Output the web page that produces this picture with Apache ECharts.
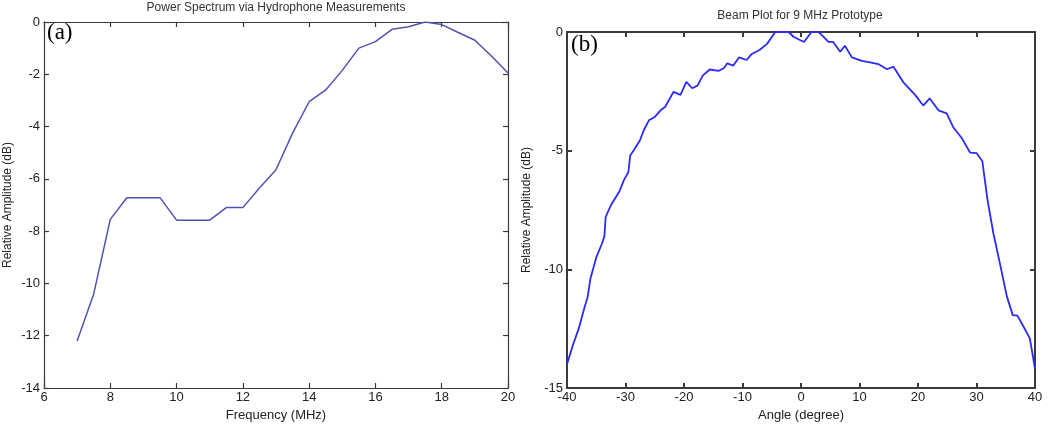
<!DOCTYPE html>
<html>
<head>
<meta charset="utf-8">
<script src="https://cdn.jsdelivr.net/npm/echarts@6/dist/echarts.min.js"></script>
<style>
html,body{margin:0;padding:0;background:#fff;}
#chart{width:1050px;height:427px;}
</style>
</head>
<body>
<div id="chart"></div>
<script>
// ---- Data (a): Power spectrum via hydrophone measurements ----
const freqMHz = [7, 7.5, 8, 8.5, 9, 9.5, 10, 10.5, 11, 11.5, 12, 12.5, 13, 13.5, 14, 14.5, 15, 15.5, 16, 16.5, 17, 17.5, 18, 18.5, 19, 19.5, 20];
const spectrumDb = [-12.2, -10.4, -7.55, -6.72, -6.72, -6.72, -7.58, -7.58, -7.58, -7.1, -7.1, -6.35, -5.65, -4.25, -3.05, -2.6, -1.85, -1.0, -0.75, -0.28, -0.18, 0, -0.1, -0.4, -0.7, -1.3, -1.95];

// ---- Data (b): Beam plot for 9 MHz prototype ----
const angleDeg = [-40, -39, -38, -37, -36.5, -36, -35, -34, -33.6, -33.4, -32.5, -31, -30.3, -29.5, -29.2, -28.5, -27.5, -26.9, -26, -25, -24, -23.2, -21.8, -20.6, -19.6, -18.6, -17.7, -16.8, -15.6, -14.1, -13.2, -12.6, -11.6, -10.6, -9.3, -8.5, -7.1, -5.8, -4.4, -2.1, -1.3, 0.5, 1.8, 3.0, 3.7, 4.7, 5.5, 6.7, 7.5, 8.7, 10.4, 11.8, 13.2, 14.7, 15.8, 17.5, 19.5, 20.9, 22.0, 23.5, 24.9, 26.0, 27.5, 28.9, 30.0, 31.0, 31.9, 32.9, 34.0, 35.2, 36.2, 37.0, 38.0, 39.1, 39.6, 40];
const beamDb = [-14.0, -13.2, -12.5, -11.6, -11.2, -10.4, -9.5, -8.9, -8.6, -7.8, -7.3, -6.7, -6.25, -5.9, -5.2, -4.95, -4.55, -4.15, -3.72, -3.58, -3.3, -3.15, -2.52, -2.65, -2.1, -2.37, -2.26, -1.84, -1.58, -1.64, -1.53, -1.32, -1.42, -1.07, -1.18, -0.94, -0.76, -0.5, 0, 0, -0.2, -0.42, 0, 0, -0.16, -0.42, -0.42, -0.83, -0.58, -1.07, -1.22, -1.28, -1.35, -1.57, -1.46, -2.12, -2.65, -3.1, -2.8, -3.3, -3.43, -4.0, -4.48, -5.08, -5.1, -5.45, -7.1, -8.5, -9.75, -11.15, -11.93, -11.95, -12.4, -12.9, -13.6, -14.2];

// ---- Axis ticks ----
const freqTicks = {min: 6, max: 20, interval: 2};
const spectrumTicks = {min: -14, max: 0, interval: 2};
const angleTicks = {min: -40, max: 40, interval: 10};
const beamTicks = {min: -15, max: 0, interval: 5};

const titles = ['Power Spectrum via Hydrophone Measurements', 'Beam Plot for 9 MHz Prototype'];

const FONT = 'Liberation Sans, Arial, sans-serif';
const axisColor = '#3a3a3a';

function xAxisBottom(grid, t, name, width, gap) {
  return {
    type: 'value', gridIndex: grid, position: 'bottom',
    min: t.min, max: t.max, interval: t.interval,
    name: name, nameLocation: 'middle', nameGap: gap,
    nameTextStyle: {fontFamily: FONT, fontSize: 13, color: '#222'},
    axisLine: {show: true, onZero: false, lineStyle: {color: axisColor, width: width}},
    axisTick: {show: true, inside: true, length: 5, lineStyle: {color: axisColor, width: width}},
    axisLabel: {fontFamily: FONT, fontSize: 13, color: '#222', margin: 3},
    splitLine: {show: false}
  };
}
function xAxisTop(grid, t, width) {
  return {
    type: 'value', gridIndex: grid, position: 'top',
    min: t.min, max: t.max, interval: t.interval,
    axisLine: {show: true, onZero: false, lineStyle: {color: axisColor, width: width}},
    axisTick: {show: true, inside: true, length: 5, lineStyle: {color: axisColor, width: width}},
    axisLabel: {show: false}, splitLine: {show: false}
  };
}
function yAxisLeft(grid, t, name, gap, width) {
  return {
    type: 'value', gridIndex: grid, position: 'left',
    min: t.min, max: t.max, interval: t.interval,
    name: name, nameLocation: 'middle', nameGap: gap, nameRotate: 90,
    nameTextStyle: {fontFamily: FONT, fontSize: 12, color: '#222'},
    axisLine: {show: true, onZero: false, lineStyle: {color: axisColor, width: width}},
    axisTick: {show: true, inside: true, length: 5, lineStyle: {color: axisColor, width: width}},
    axisLabel: {fontFamily: FONT, fontSize: 13, color: '#222', margin: 4},
    splitLine: {show: false}
  };
}
function yAxisRight(grid, t, width) {
  return {
    type: 'value', gridIndex: grid, position: 'right',
    min: t.min, max: t.max, interval: t.interval,
    axisLine: {show: true, onZero: false, lineStyle: {color: axisColor, width: width}},
    axisTick: {show: true, inside: true, length: 5, lineStyle: {color: axisColor, width: width}},
    axisLabel: {show: false}, splitLine: {show: false}
  };
}

const chart = echarts.init(document.getElementById('chart'), null, {renderer: 'canvas'});
chart.setOption({
  backgroundColor: '#fff',
  animation: false,
  title: [
    {text: titles[0], left: 276, top: 2, padding: 0, textAlign: 'center',
     textStyle: {fontFamily: FONT, fontSize: 12, fontWeight: 'normal', color: '#333'}},
    {text: titles[1], left: 800, top: 10, padding: 0, textAlign: 'center',
     textStyle: {fontFamily: FONT, fontSize: 12, fontWeight: 'normal', color: '#333'}}
  ],
  grid: [
    {left: 44, right: 542, top: 22, bottom: 39},
    {left: 567, right: 15, top: 32, bottom: 39}
  ],
  xAxis: [
    xAxisBottom(0, freqTicks, 'Frequency (MHz)', 1.2, 15),
    xAxisTop(0, freqTicks, 1.2),
    xAxisBottom(1, angleTicks, 'Angle (degree)', 2, 13),
    xAxisTop(1, angleTicks, 2)
  ],
  yAxis: [
    yAxisLeft(0, spectrumTicks, 'Relative Amplitude (dB)', 30, 1.2),
    yAxisRight(0, spectrumTicks, 1.2),
    yAxisLeft(1, beamTicks, 'Relative Amplitude (dB)', 34, 2),
    yAxisRight(1, beamTicks, 2)
  ],
  graphic: [
    {type: 'text', left: 47, top: 21, style: {text: '(a)', font: '23px "Liberation Serif", "Times New Roman", serif', fill: '#000'}},
    {type: 'text', left: 571, top: 33, style: {text: '(b)', font: '23px "Liberation Serif", "Times New Roman", serif', fill: '#000'}}
  ],
  series: [
    {type: 'line', xAxisIndex: 0, yAxisIndex: 0, showSymbol: false, symbol: 'none',
     lineStyle: {color: '#5252b4', width: 1.5},
     data: freqMHz.map((f, i) => [f, spectrumDb[i]])},
    {type: 'line', xAxisIndex: 2, yAxisIndex: 2, showSymbol: false, symbol: 'none',
     lineStyle: {color: '#2b2bff', width: 1.8},
     data: angleDeg.map((a, i) => [a, beamDb[i]])}
  ]
});
</script>
</body>
</html>
